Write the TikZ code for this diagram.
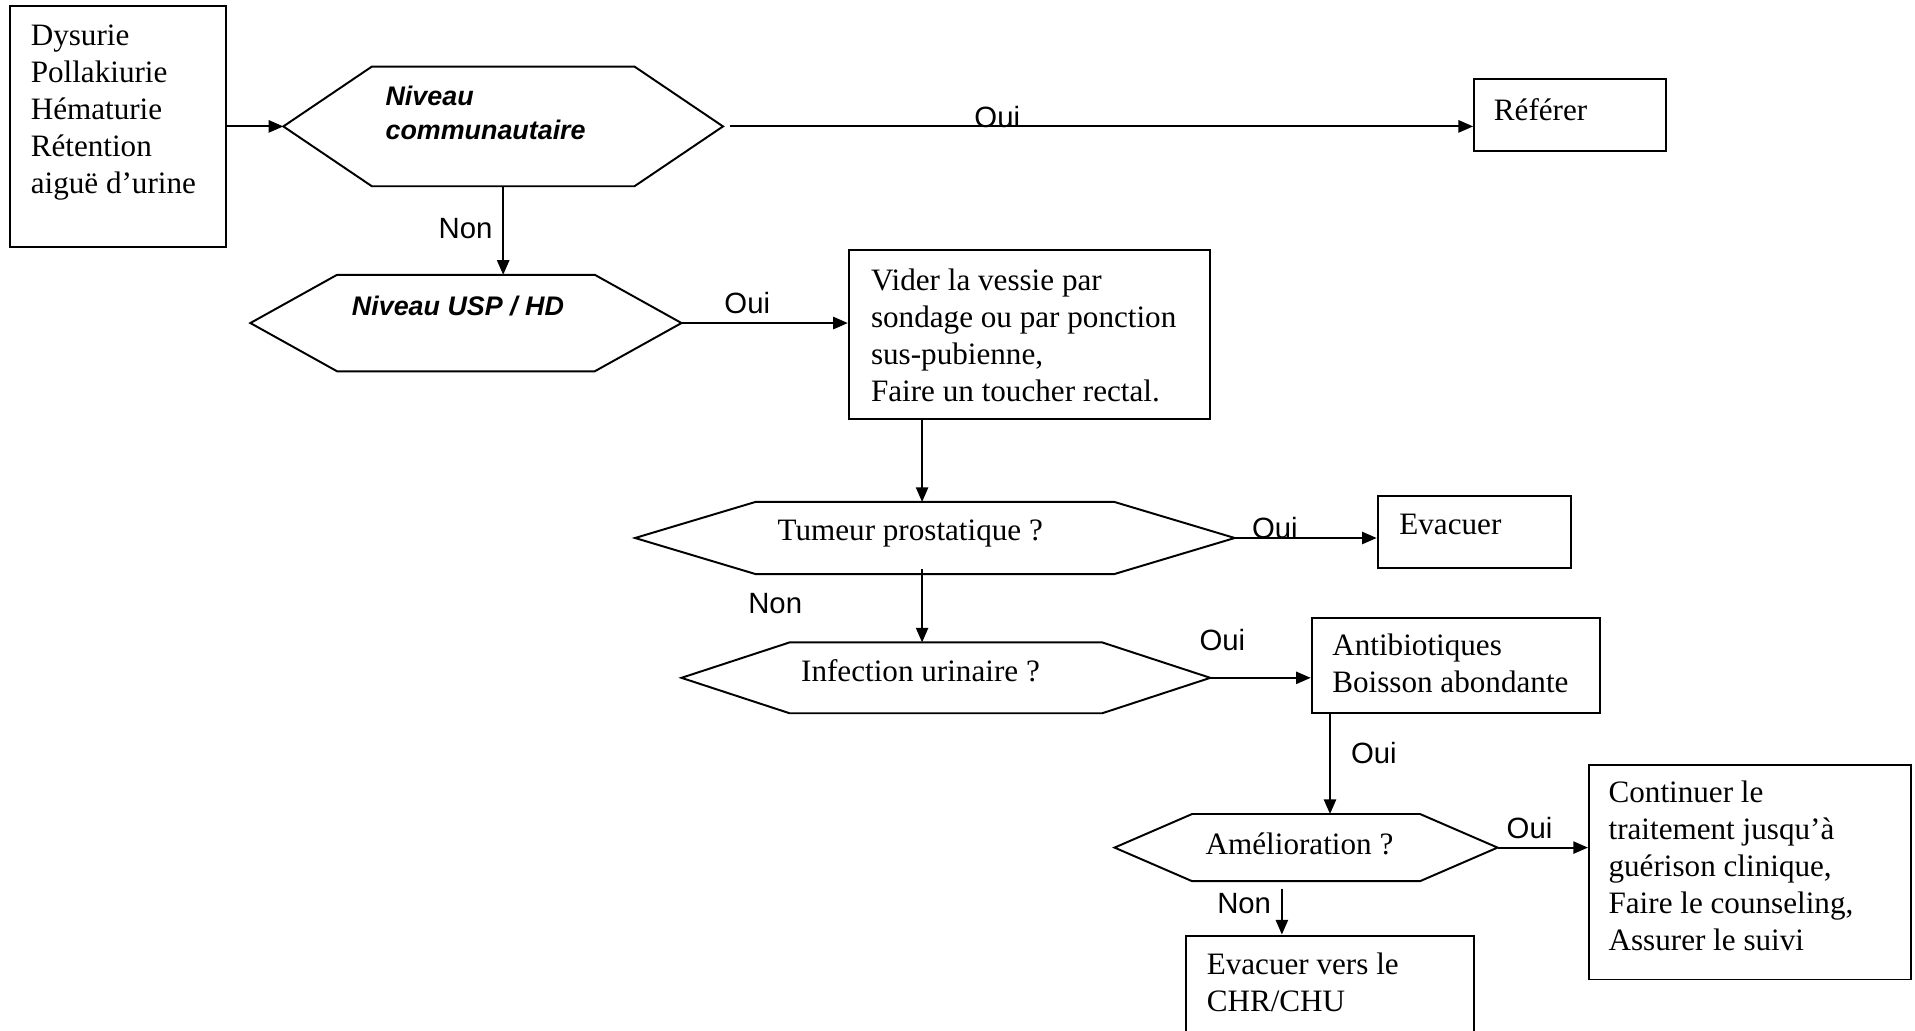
\documentclass[tikz,border=0pt]{standalone}
\usepackage{fontspec}
\setmainfont{Liberation Serif}
\newfontfamily\sansf{Liberation Sans}
\usetikzlibrary{arrows.meta,calc}
\newcommand\hexpath[2]{\draw[ln] (#1.west) -- ([xshift=#2]#1.north west) -- ([xshift=-#2]#1.north east) -- (#1.east) -- ([xshift=-#2]#1.south east) -- ([xshift=#2]#1.south west) -- cycle;}
\begin{document}
\begin{tikzpicture}[x=1pt,y=-1pt,
  ln/.style={line width=1.6pt},
  arr/.style={ln,-{Triangle[length=12pt,width=10pt]}},
  boxn/.style={draw,ln,inner sep=0pt},
  hexn/.style={inner sep=0pt,outer sep=0pt},
  ttxt/.style={inner sep=0pt,anchor=base west,align=left,font=\fontsize{25.5}{30.3}\selectfont},
  lbl/.style={inner sep=0pt,anchor=base west,font=\sansf\fontsize{24}{28}\selectfont},
  hlbl/.style={inner sep=0pt,anchor=base west,align=left,font=\sansf\bfseries\itshape\fontsize{22}{28.6}\selectfont}]
\path[use as bounding box] (0,0) rectangle (1568,844);
\clip (0,0) rectangle (1568,844);

% boxes
\node[boxn,minimum width=177pt,minimum height=197pt] (b1) at (96.5,103.5) {};
\node[boxn,minimum width=157pt,minimum height=59pt] (ref) at (1285.5,94.5) {};
\node[boxn,minimum width=296pt,minimum height=138pt] (vid) at (843,274) {};
\node[boxn,minimum width=158pt,minimum height=59pt] (eva) at (1207,435.5) {};
\node[boxn,minimum width=236pt,minimum height=78pt] (ant) at (1192,545) {};
\node[boxn,minimum width=264pt,minimum height=176pt] (con) at (1433,714) {};
\node[boxn,minimum width=236pt,minimum height=104pt] (evv) at (1089,818) {};

% hexagons
\node[hexn,minimum width=360pt,minimum height=98pt] (h1) at (412,103.5) {};
\hexpath{h1}{72.5pt}
\node[hexn,minimum width=353pt,minimum height=79pt] (h2) at (381.5,264.5) {};
\hexpath{h2}{71pt}
\node[hexn,minimum width=491pt,minimum height=59pt] (h3) at (765.5,440.5) {};
\hexpath{h3}{98.5pt}
\node[hexn,minimum width=433pt,minimum height=58pt] (h4) at (774.5,555) {};
\hexpath{h4}{88.5pt}
\node[hexn,minimum width=313.6pt,minimum height=55pt] (h5) at (1069.4,694) {};
\hexpath{h5}{63.5pt}

% texts (anchor = baseline of the last line)
\node[ttxt] (t1) at (25,158.7) {Dysurie\\Pollakiurie\\Hématurie\\Rétention\\aiguë d’urine};
\node[ttxt] (tref) at (1223,98.3) {Référer};
\node[ttxt] (tvid) at (713,328.4) {Vider la vessie par\\sondage ou par ponction\\sus-pubienne,\\Faire un toucher rectal.};
\node[ttxt] (th3) at (636.5,442.2) {Tumeur prostatique ?};
\node[ttxt] (teva) at (1145.6,438) {Evacuer};
\node[ttxt] (th4) at (655.8,558) {Infection urinaire ?};
\node[ttxt] (tant) at (1090.7,567) {Antibiotiques\\Boisson abondante};
\node[ttxt] (th5) at (987,699.3) {Amélioration ?};
\node[ttxt] (tcon) at (1316.9,778.4) {Continuer le\\traitement jusqu’à\\guérison clinique,\\Faire le counseling,\\Assurer le suivi};
\node[ttxt] (tevv) at (987.9,828.6) {Evacuer vers le\\CHR/CHU};
\node[hlbl] (th1) at (315.5,114.6) {Niveau\\communautaire};
\node[hlbl] (th2) at (288,258) {Niveau USP / HD};

% connectors
\draw[arr] (h1.west -| b1.east) -- (h1.west);
\draw[arr] ([xshift=5.5pt]h1.east) -- (h1.east -| ref.west);
\draw[arr] (h1.south) -- (h1.south |- h2.north);
\draw[arr] (h2.east) -- (h2.east -| vid.west);
\draw[arr] ([xshift=-88pt]vid.south) -- ([xshift=-88pt]vid.south |- h3.north);
\draw[arr] (h3.east) -- (h3.east -| eva.west);
\draw[arr] ([xshift=-10.5pt,yshift=4pt]h3.south) -- ([xshift=-10.5pt]h3.south |- h4.north);
\draw[arr] (h4.east) -- (h4.east -| ant.west);
\draw[arr] ([xshift=-103pt]ant.south) -- ([xshift=-103pt]ant.south |- h5.north);
\draw[arr] (h5.east) -- (h5.east -| con.west);
\draw[arr] ([xshift=-19.8pt,yshift=-6pt]h5.south) -- ([xshift=-19.8pt]h5.south |- evv.north);

% connector labels
\node[lbl] (o1) at (797.7,104.5) {Oui};
\node[lbl] (n1) at (359,195) {Non};
\node[lbl] (o2) at (593,257) {Oui};
\node[lbl] (o3) at (1025,440.8) {Oui};
\node[lbl] (n2) at (612.5,502.2) {Non};
\node[lbl] (o4) at (982,532.8) {Oui};
\node[lbl] (o5) at (1106,625) {Oui};
\node[lbl] (o6) at (1233.5,686.4) {Oui};
\node[lbl] (n3) at (996.5,747.8) {Non};
\end{tikzpicture}
\end{document}
